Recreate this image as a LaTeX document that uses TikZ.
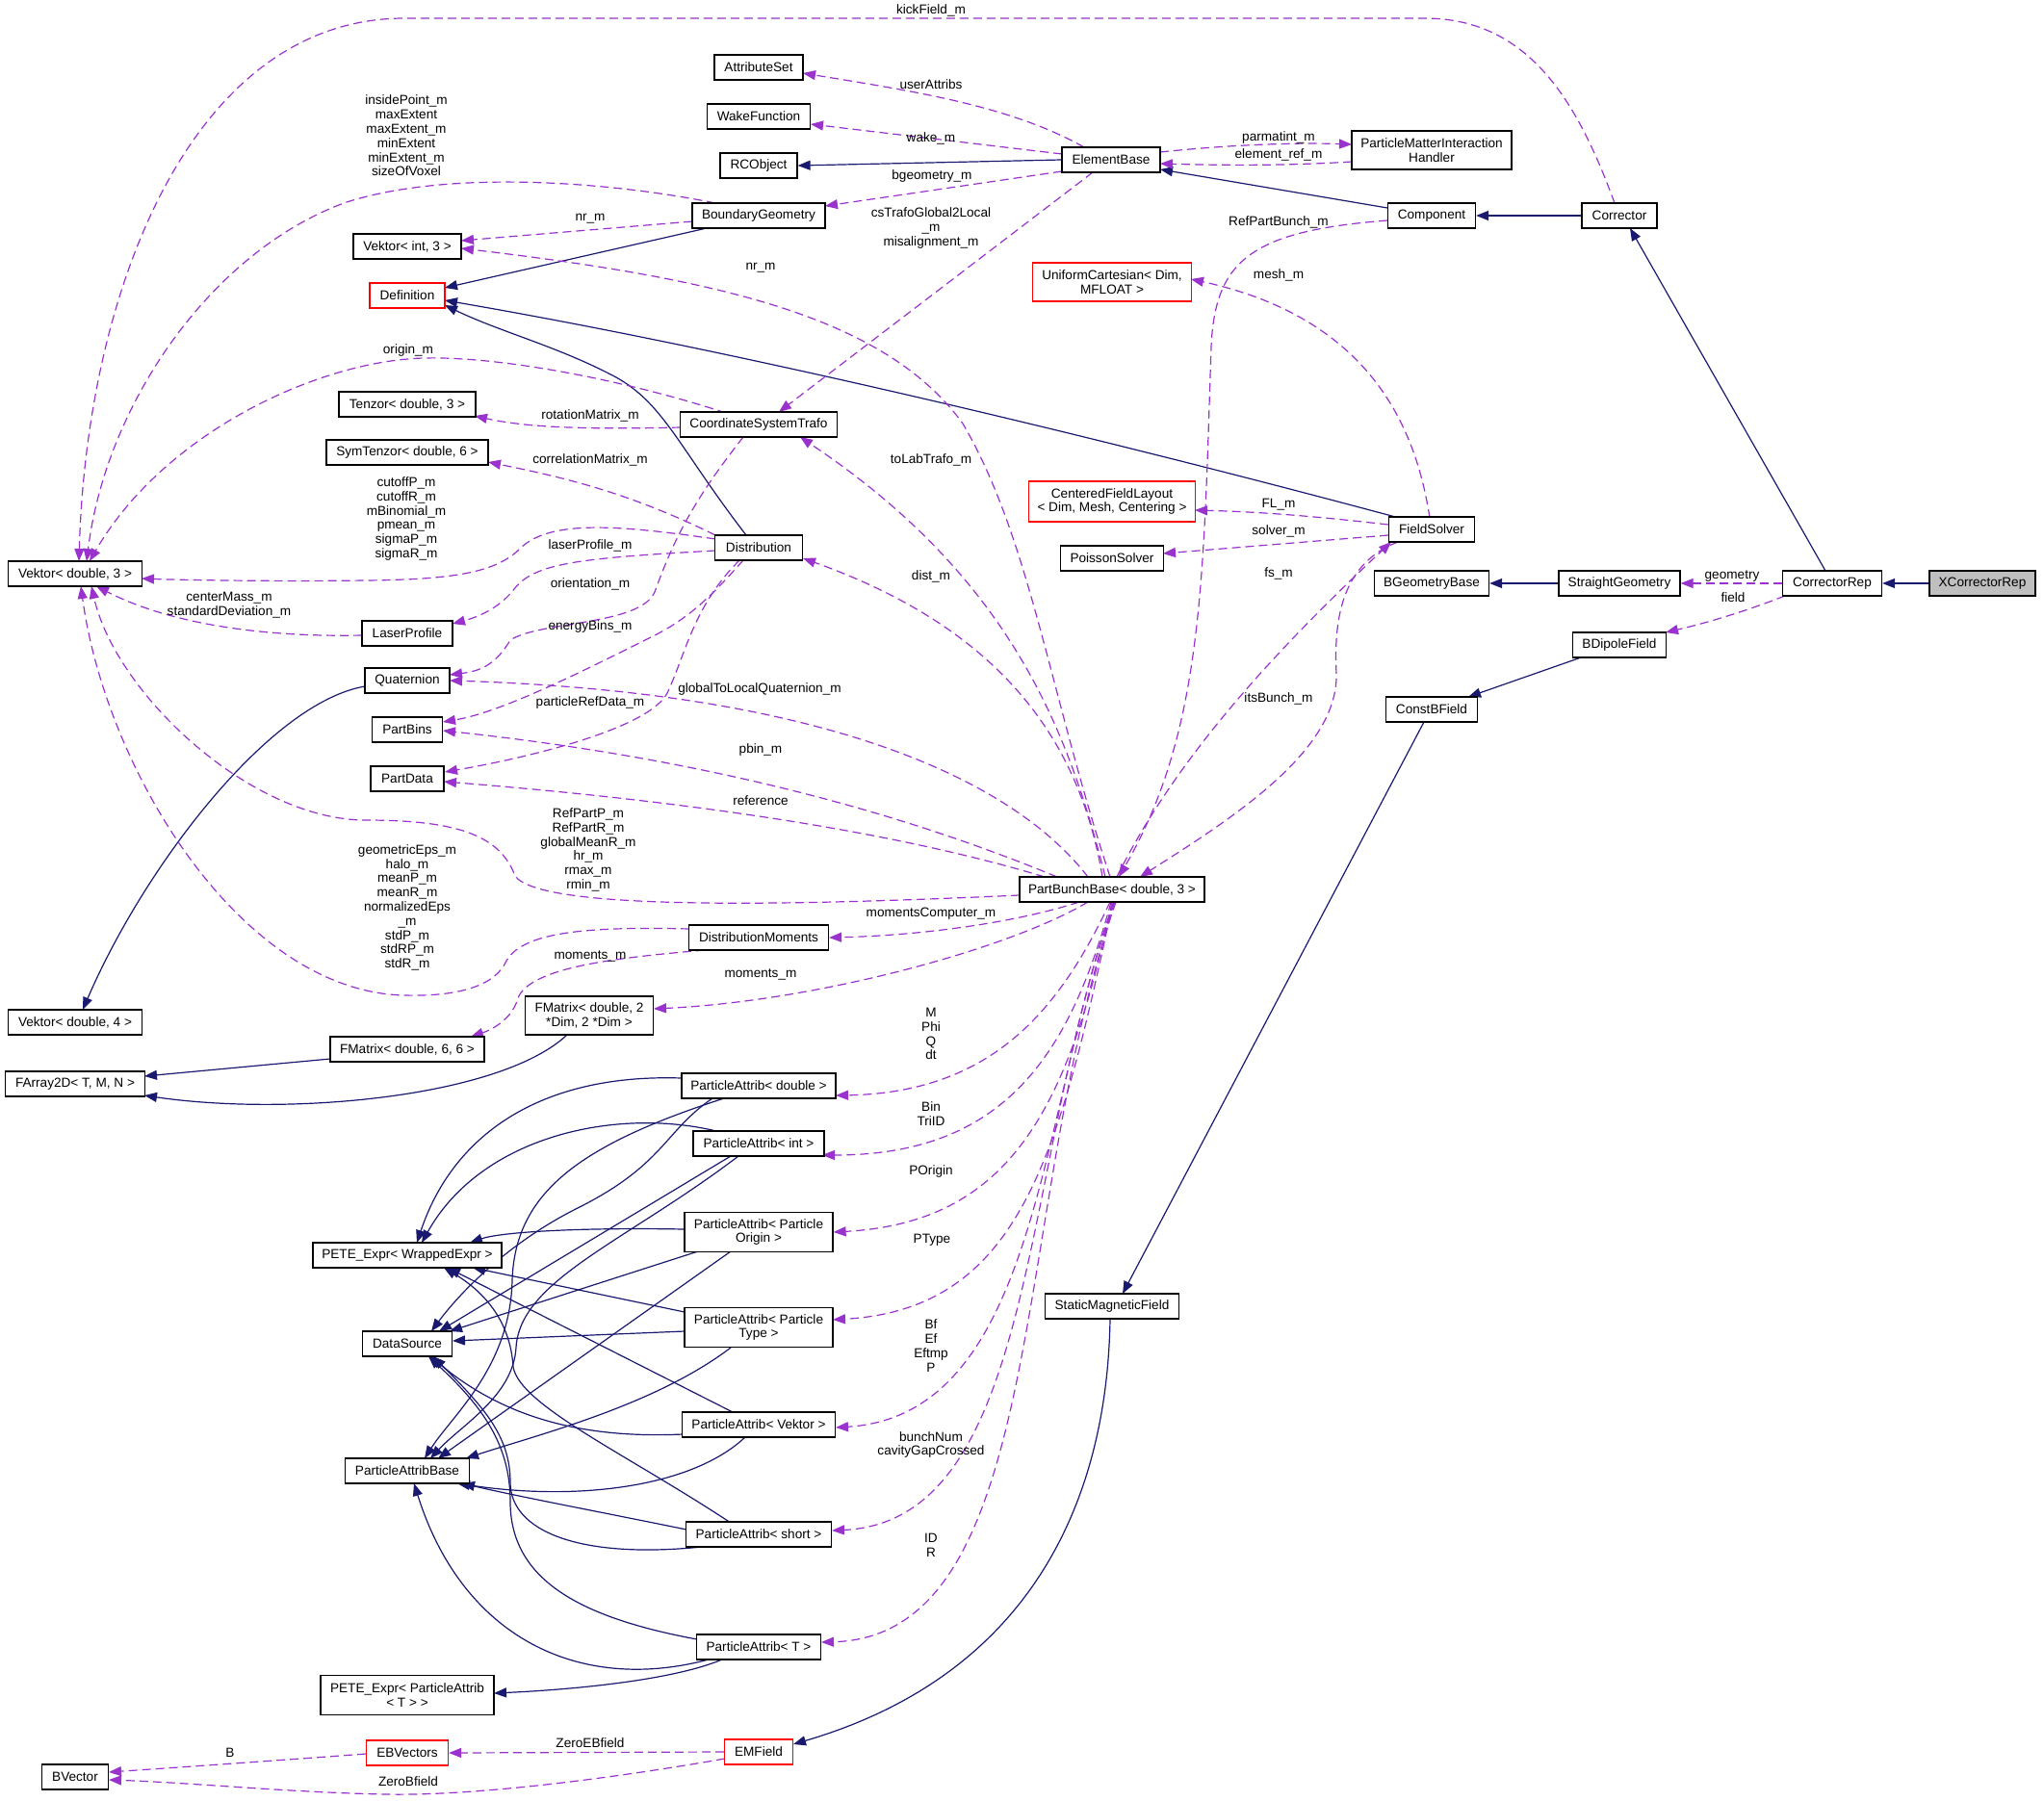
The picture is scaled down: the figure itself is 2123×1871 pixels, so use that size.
\documentclass[tikz,border=0pt]{standalone}
\usepackage{fontspec}
\setmainfont{Liberation Sans}
\usetikzlibrary{arrows.meta,calc,backgrounds}
\definecolor{navy}{HTML}{191970}
\definecolor{purp}{HTML}{9A32CD}
\definecolor{xgray}{HTML}{BFBFBF}
\newcommand\dxfont{\fontsize{13.6}{14.8}\selectfont}
\tikzset{
 cls/.style={draw=black, line width=1.2pt, fill=white, font=\dxfont, inner sep=0pt, align=center, minimum height=26pt},
 rcls/.style={cls, draw=red},
 inhedge/.style={draw=navy, line width=1.2pt, -{Triangle[length=13pt,width=10pt]}},
 usedge/.style={draw=purp, line width=1.2pt, dash pattern=on 9pt off 5pt, -{Triangle[length=13pt,width=10pt]}},
 lbl/.style={font=\dxfont, inner sep=0pt, align=center},
}
\begin{document}
\begin{tikzpicture}[x=1pt,y=-1pt]
\useasboundingbox (0,0) rectangle (2123,1871);
% ---- nodes
\node[cls,minimum width=139pt] (vd3) at (78,596) {Vektor< double, 3 >};
\node[cls,minimum width=112pt] (vi3) at (423,256) {Vektor< int, 3 >};
\node[rcls,minimum width=78pt] (defn) at (423,307) {Definition};
\node[cls,minimum width=142pt] (tenz) at (423,420) {Tenzor< double, 3 >};
\node[cls,minimum width=168pt] (symt) at (423,470) {SymTenzor< double, 6 >};
\node[cls,minimum width=94pt] (lasp) at (423,658) {LaserProfile};
\node[cls,minimum width=88pt] (quat) at (423,707) {Quaternion};
\node[cls,minimum width=73pt] (pbins) at (423,758) {PartBins};
\node[cls,minimum width=76pt] (pdata) at (423,809) {PartData};
\node[cls,minimum width=139pt] (vd4) at (78,1062) {Vektor< double, 4 >};
\node[cls,minimum width=160pt] (fm66) at (423,1090) {FMatrix< double, 6, 6 >};
\node[cls,minimum width=145pt] (fa2d) at (78,1126) {FArray2D< T, M, N >};
\node[cls,minimum width=133pt,minimum height=40pt] (fm2d) at (612,1055) {FMatrix< double, 2\\ *Dim, 2 *Dim >};
\node[cls,minimum width=196pt] (pete) at (423,1304) {PETE\_Expr< WrappedExpr >};
\node[cls,minimum width=93pt] (dsrc) at (423,1396) {DataSource};
\node[cls,minimum width=129pt] (pab) at (423,1528) {ParticleAttribBase};
\node[cls,minimum width=180pt,minimum height=41pt] (petet) at (423,1761) {PETE\_Expr< ParticleAttrib\\< T > >};
\node[rcls,minimum width=85pt] (ebv) at (423,1821) {EBVectors};
\node[cls,minimum width=69pt] (bvec) at (78,1846) {BVector};
\node[cls,minimum width=92pt] (attr) at (788,70) {AttributeSet};
\node[cls,minimum width=107pt] (wake) at (788,121) {WakeFunction};
\node[cls,minimum width=80pt] (rco) at (788,172) {RCObject};
\node[cls,minimum width=138pt] (bgeo) at (788,224) {BoundaryGeometry};
\node[cls,minimum width=163pt] (cst) at (788,441) {CoordinateSystemTrafo};
\node[cls,minimum width=91pt] (dist) at (788,569) {Distribution};
\node[cls,minimum width=145pt] (dmom) at (788,974) {DistributionMoments};
\node[cls,minimum width=160pt] (pad) at (788,1128) {ParticleAttrib< double >};
\node[cls,minimum width=136pt] (pai) at (788,1188) {ParticleAttrib< int >};
\node[cls,minimum width=154pt,minimum height=41pt] (pao) at (788,1280) {ParticleAttrib< Particle\\Origin >};
\node[cls,minimum width=154pt,minimum height=41pt] (pat) at (788,1379) {ParticleAttrib< Particle\\Type >};
\node[cls,minimum width=159pt] (pav) at (788,1480) {ParticleAttrib< Vektor >};
\node[cls,minimum width=151pt] (pas) at (788,1594) {ParticleAttrib< short >};
\node[cls,minimum width=129pt] (paT) at (788,1711) {ParticleAttrib< T >};
\node[rcls,minimum width=71pt] (emf) at (788,1820) {EMField};
\node[cls,minimum width=102pt] (elem) at (1154,166) {ElementBase};
\node[rcls,minimum width=165pt,minimum height=40pt] (unic) at (1155,293) {UniformCartesian< Dim,\\MFLOAT >};
\node[rcls,minimum width=173pt,minimum height=42pt] (cfl) at (1155,521) {CenteredFieldLayout\\< Dim, Mesh, Centering >};
\node[cls,minimum width=107pt] (poss) at (1155,580) {PoissonSolver};
\node[cls,minimum width=192pt] (pbb) at (1155,924) {PartBunchBase< double, 3 >};
\node[cls,minimum width=139pt] (smf) at (1155,1357) {StaticMagneticField};
\node[cls,minimum width=166pt,minimum height=40pt] (pmih) at (1487,156) {ParticleMatterInteraction\\Handler};
\node[cls,minimum width=91pt] (comp) at (1487,224) {Component};
\node[cls,minimum width=89pt] (fsol) at (1487,550) {FieldSolver};
\node[cls,minimum width=119pt] (bgb) at (1487,606) {BGeometryBase};
\node[cls,minimum width=95pt] (cbf) at (1487,737) {ConstBField};
\node[cls,minimum width=78pt] (corr) at (1682,224) {Corrector};
\node[cls,minimum width=126pt] (sgeo) at (1682,606) {StraightGeometry};
\node[cls,minimum width=97pt] (bdip) at (1682,670) {BDipoleField};
\node[cls,minimum width=103pt] (crep) at (1903,606) {CorrectorRep};
\node[cls,minimum width=110pt,fill=xgray] (xcrep) at (2059,606) {XCorrectorRep};
% ---- edges
\begin{scope}[on background layer]
% inheritance
\draw[inhedge] (xcrep.west) -- (crep.east);
\draw[inhedge] ($(crep)+(-7,-13)$) -- ($(corr)+(11,13)$);
\draw[inhedge] (corr.west) -- (comp.east);
\draw[inhedge] ($(comp)+(-46,-8)$) -- ($(elem)+(51,10)$);
\draw[inhedge] (elem.west) -- (rco.east);
\draw[inhedge] (sgeo.west) -- (bgb.east);
\draw[inhedge] ($(bdip)+(-37,12)$) -- ($(cbf)+(38,-13)$);
\draw[inhedge] ($(cbf)+(-8,13)$) -- ($(smf)+(11,-13)$);
\draw[inhedge] ($(smf)+(-2,13)$) .. controls (1150,1560) and (1070,1740) .. ($(emf)+(36,-8)$);
\draw[inhedge] ($(bgeo)+(-54,13)$) -- ($(defn)+(39,-8)$);
\draw[inhedge] ($(fsol)+(-34,-12)$) .. controls (1200,470) and (800,370) .. ($(defn)+(39,5)$);
\draw[inhedge] ($(dist)+(-13,-13)$) .. controls (705,465) and (690,420) .. (640,392) .. controls (580,360) and (520,345) .. ($(defn)+(39,10)$);
\draw[inhedge] ($(quat)+(-44,6)$) .. controls (280,730) and (150,900) .. ($(vd4)+(8,-13)$);
\draw[inhedge] ($(fm66)+(-80,10)$) -- ($(fa2d)+(72,-8)$);
\draw[inhedge] ($(fm2d)+(-23,20)$) .. controls (520,1140) and (300,1160) .. ($(fa2d)+(72,12)$);
\draw[inhedge] ($(paT)+(-38,13)$) .. controls (700,1745) and (600,1755) .. ($(petet)+(90,-2)$);
\draw[inhedge] ($(paT)+(-52,13)$) .. controls (600,1760) and (480,1700) .. ($(pab)+(7,13)$);
\draw[inhedge] ($(paT)+(-64,-8)$) .. controls (600,1680) and (530,1640) .. (530,1560) .. controls (530,1500) and (500,1460) .. ($(dsrc)+(22,13)$);
\draw[inhedge] ($(pas)+(-59,13)$) .. controls (600,1620) and (530,1590) .. (530,1540) .. controls (530,1490) and (500,1460) .. ($(dsrc)+(27,13)$);
\draw[inhedge] ($(pas)+(-75,-5)$) .. controls (620,1570) and (540,1555) .. ($(pab)+(57,13)$);
\draw[inhedge] ($(pas)+(-29,-12)$) .. controls (650,1510) and (540,1460) .. (533,1420) .. controls (530,1370) and (500,1340) .. ($(pete)+(38,13)$);
\draw[inhedge] ($(pav)+(-27,-13)$) -- ($(pete)+(42,13)$);
\draw[inhedge] ($(pav)+(-79,10)$) .. controls (600,1495) and (520,1470) .. ($(dsrc)+(24,13)$);
\draw[inhedge] ($(pav)+(-13,12)$) .. controls (720,1545) and (600,1560) .. ($(pab)+(52,13)$);
\draw[inhedge] ($(pat)+(-77,-16)$) -- ($(pete)+(68,13)$);
\draw[inhedge] ($(pat)+(-77,4)$) -- ($(dsrc)+(47,-3)$);
\draw[inhedge] ($(pat)+(-29,21)$) .. controls (680,1460) and (560,1490) .. ($(pab)+(61,-13)$);
\draw[inhedge] ($(pao)+(-77,-3)$) .. controls (600,1275) and (520,1280) .. ($(pete)+(65,-13)$);
\draw[inhedge] ($(pao)+(-63,20)$) -- ($(dsrc)+(44,-13)$);
\draw[inhedge] ($(pao)+(-29,20)$) -- ($(pab)+(32,-13)$);
\draw[inhedge] ($(pai)+(-44,-13)$) .. controls (640,1150) and (500,1180) .. ($(pete)+(15,-13)$);
\draw[inhedge] ($(pad)+(-80,-8)$) .. controls (560,1115) and (470,1180) .. ($(pete)+(10,-13)$);
\draw[inhedge] ($(pai)+(-29,13)$) -- ($(dsrc)+(33,-13)$);
\draw[inhedge] ($(pad)+(-48,13)$) .. controls (690,1175) and (690,1210) .. (600,1255) .. controls (530,1290) and (480,1340) .. ($(dsrc)+(25,-13)$);
\draw[inhedge] ($(pad)+(-36,13)$) .. controls (600,1190) and (535,1240) .. (532,1330) .. controls (530,1420) and (470,1470) .. ($(pab)+(18,-13)$);
\draw[inhedge] ($(pai)+(-21,13)$) .. controls (650,1290) and (540,1330) .. (536,1400) .. controls (533,1450) and (480,1480) .. ($(pab)+(24,-13)$);
% usage
\draw[usedge] ($(corr)+(-5,-13)$) .. controls (1640,110) and (1590,19) .. (1480,19) -- (420,19) .. controls (200,19) and (90,300) .. ($(vd3)+(4,-13)$);
\draw[usedge] ($(bgeo)+(-45,-13)$) .. controls (640,190) and (470,175) .. (360,210) .. controls (220,260) and (110,420) .. ($(vd3)+(12,-13)$);
\draw[usedge] ($(bgeo)+(-69,6)$) -- ($(vi3)+(56,-6)$);
\draw[usedge] ($(pbb)+(-2,-13)$) .. controls (1090,720) and (1070,560) .. (1000,440) .. controls (920,330) and (750,290) .. ($(vi3)+(56,2)$);
\draw[usedge] ($(elem)+(-28,-13)$) .. controls (1050,110) and (950,95) .. ($(attr)+(46,6)$);
\draw[usedge] ($(elem)+(-51,-6)$) -- ($(wake)+(54,8)$);
\draw[usedge] ($(elem)+(-51,12)$) -- ($(bgeo)+(69,-10)$);
\draw[usedge] ($(elem)+(-19,13)$) -- ($(cst)+(21,-13)$);
\draw[usedge] ($(elem)+(51,-8)$) .. controls (1280,150) and (1350,148) .. ($(pmih)+(-83,-6)$);
\draw[usedge] ($(pmih)+(-83,12)$) .. controls (1340,172) and (1280,172) .. ($(elem)+(51,4)$);
\draw[usedge] ($(comp)+(-46,5)$) .. controls (1300,240) and (1262,270) .. (1258,360) .. controls (1250,600) and (1250,760) .. ($(pbb)+(7,-13)$);
\draw[usedge] ($(fsol)+(-2,-12)$) .. controls (1470,440) and (1420,330) .. ($(unic)+(82,-3)$);
\draw[usedge] ($(fsol)+(-45,-5)$) .. controls (1380,538) and (1320,532) .. ($(cfl)+(86,9)$);
\draw[usedge] ($(fsol)+(-45,6)$) -- ($(poss)+(53,-5)$);
\draw[usedge] ($(pbb)+(5,-13)$) .. controls (1220,790) and (1320,680) .. ($(fsol)+(-42,13)$);
\draw[usedge] ($(fsol)+(-35,13)$) .. controls (1395,585) and (1385,640) .. (1388,700) .. controls (1390,780) and (1280,850) .. ($(pbb)+(29,-13)$);
\draw[usedge] ($(pbb)+(-7,-13)$) .. controls (1110,760) and (1050,600) .. ($(cst)+(43,13)$);
\draw[usedge] ($(pbb)+(-10,-13)$) .. controls (1120,760) and (1030,650) .. ($(dist)+(46,11)$);
\draw[usedge] ($(pbb)+(-25,-13)$) .. controls (1060,820) and (880,720) .. ($(quat)+(44,0)$);
\draw[usedge] ($(pbb)+(-57,-13)$) .. controls (950,850) and (750,790) .. ($(pbins)+(37,1)$);
\draw[usedge] ($(pbb)+(-70,-13)$) .. controls (950,870) and (750,835) .. ($(pdata)+(38,3)$);
\draw[usedge] ($(pbb)+(-96,6)$) .. controls (800,942) and (560,945) .. (535,910) .. controls (520,870) and (480,852) .. (380,852) .. controls (260,852) and (120,720) .. ($(vd3)+(17,13)$);
\draw[usedge] ($(dmom)+(-72,-9)$) .. controls (600,962) and (540,970) .. (525,1000) .. controls (510,1030) and (460,1035) .. (420,1034) .. controls (250,1030) and (110,800) .. ($(vd3)+(6,13)$);
\draw[usedge] ($(dist)+(-45,-9)$) .. controls (640,545) and (570,540) .. (540,570) .. controls (515,595) and (470,602) .. (380,603) .. controls (300,604) and (200,603) .. ($(vd3)+(69,5)$);
\draw[usedge] ($(cst)+(-34,-12)$) .. controls (650,395) and (520,370) .. (440,372) .. controls (330,375) and (170,450) .. ($(vd3)+(15,-13)$);
\draw[usedge] ($(cst)+(-81,3)$) .. controls (620,446) and (550,445) .. ($(tenz)+(70,12)$);
\draw[usedge] ($(dist)+(-45,-13)$) .. controls (650,510) and (580,495) .. ($(symt)+(84,10)$);
\draw[usedge] ($(dist)+(-45,3)$) .. controls (600,580) and (555,585) .. (534,612) .. controls (520,630) and (500,640) .. ($(lasp)+(47,-10)$);
\draw[usedge] ($(lasp)+(-47,2)$) .. controls (280,662) and (180,650) .. ($(vd3)+(22,13)$);
\draw[usedge] ($(cst)+(-16,13)$) .. controls (720,520) and (700,560) .. (680,615) .. controls (665,650) and (560,645) .. (530,665) .. controls (515,690) and (500,697) .. ($(quat)+(44,-6)$);
\draw[usedge] ($(dist)+(-16,13)$) .. controls (745,612) and (720,640) .. (680,660) .. controls (600,700) and (520,740) .. ($(pbins)+(37,-8)$);
\draw[usedge] ($(dist)+(-20,13)$) .. controls (720,630) and (712,680) .. (693,720) .. controls (675,755) and (560,785) .. ($(pdata)+(39,-7)$);
\draw[usedge] ($(pbb)+(-34,13)$) .. controls (1050,960) and (950,972) .. (dmom.east);
\draw[usedge] ($(pbb)+(-25,13)$) .. controls (1050,985) and (850,1040) .. ($(fm2d)+(67,-7)$);
\draw[usedge] ($(dmom)+(-56,13)$) .. controls (640,995) and (545,1005) .. (537,1040) .. controls (530,1060) and (510,1070) .. ($(fm66)+(66,-13)$);
\draw[usedge] ($(pbb)+(-2,13)$) .. controls (1100,1050) and (1030,1135) .. ($(pad)+(80,10)$);
\draw[usedge] ($(pbb)+(-1,13)$) .. controls (1110,1100) and (1040,1200) .. ($(pai)+(66,12)$);
\draw[usedge] ($(pbb)+(0,13)$) .. controls (1110,1150) and (1050,1270) .. (pao.east);
\draw[usedge] ($(pbb)+(1,13)$) .. controls (1100,1200) and (1060,1360) .. ($(pat)+(77,-8)$);
\draw[usedge] ($(pbb)+(2,13)$) .. controls (1080,1150) and (1080,1470) .. ($(pav)+(80,3)$);
\draw[usedge] ($(pbb)+(3,13)$) .. controls (1060,1200) and (1080,1580) .. ($(pas)+(76,-4)$);
\draw[usedge] ($(pbb)+(4,13)$) .. controls (1050,1250) and (1090,1700) .. ($(paT)+(65,-5)$);
\draw[usedge] ($(ebv)+(-43,1)$) .. controls (300,1828) and (200,1835) .. ($(bvec)+(35,-5)$);
\draw[usedge] ($(emf)+(-35,7)$) .. controls (650,1845) and (500,1866) .. (400,1864) .. controls (300,1862) and (200,1852) .. ($(bvec)+(35,3)$);
\draw[usedge] (emf.west) -- (ebv.east);
\draw[usedge] (crep.west) -- (sgeo.east);
\draw[usedge] ($(crep)+(-49,13)$) .. controls (1800,640) and (1760,650) .. ($(bdip)+(48,-13)$);
\end{scope}
% ---- labels
\node[lbl] (lkick) at (967,11) {kickField\_m};
\node[lbl] (luser) at (967,88) {userAttribs};
\node[lbl] (lwake) at (967,144) {wake\_m};
\node[lbl] (lbgeo) at (968,183) {bgeometry\_m};
\node[lbl] (lcst) at (967,237) {csTrafoGlobal2Local\\\_m\\misalignment\_m};
\node[lbl] (lparm) at (1328,143) {parmatint\_m};
\node[lbl] (leref) at (1328,161) {element\_ref\_m};
\node[lbl] (lrpb) at (1328,231) {RefPartBunch\_m};
\node[lbl] (lmesh) at (1328,286) {mesh\_m};
\node[lbl] (lfl) at (1328,524) {FL\_m};
\node[lbl] (lsolv) at (1328,552) {solver\_m};
\node[lbl] (lfs) at (1328,596) {fs\_m};
\node[lbl] (lits) at (1328,726) {itsBunch\_m};
\node[lbl] (linside) at (422,141) {insidePoint\_m\\maxExtent\\maxExtent\_m\\minExtent\\minExtent\_m\\sizeOfVoxel};
\node[lbl] (lnr1) at (613,227) {nr\_m};
\node[lbl] (lnr2) at (790,278) {nr\_m};
\node[lbl] (lorig) at (424,364) {origin\_m};
\node[lbl] (lrot) at (613,432) {rotationMatrix\_m};
\node[lbl] (lcorr) at (613,478) {correlationMatrix\_m};
\node[lbl] (lcut) at (422,539) {cutoffP\_m\\cutoffR\_m\\mBinomial\_m\\pmean\_m\\sigmaP\_m\\sigmaR\_m};
\node[lbl] (llas) at (613,567) {laserProfile\_m};
\node[lbl] (lori) at (613,607) {orientation\_m};
\node[lbl] (lcm) at (238,629) {centerMass\_m\\standardDeviation\_m};
\node[lbl] (leb) at (613,651) {energyBins\_m};
\node[lbl] (llab) at (967,478) {toLabTrafo\_m};
\node[lbl] (ldist) at (967,599) {dist\_m};
\node[lbl] (lprd) at (613,730) {particleRefData\_m};
\node[lbl] (lgtl) at (789,716) {globalToLocalQuaternion\_m};
\node[lbl] (lpbin) at (790,779) {pbin\_m};
\node[lbl] (lref) at (790,832) {reference};
\node[lbl] (lrpp) at (611,883) {RefPartP\_m\\RefPartR\_m\\globalMeanR\_m\\hr\_m\\rmax\_m\\rmin\_m};
\node[lbl] (lgeps) at (423,943) {geometricEps\_m\\halo\_m\\meanP\_m\\meanR\_m\\normalizedEps\\\_m\\stdP\_m\\stdRP\_m\\stdR\_m};
\node[lbl] (lmc) at (967,949) {momentsComputer\_m};
\node[lbl] (lmom1) at (613,993) {moments\_m};
\node[lbl] (lmom2) at (790,1012) {moments\_m};
\node[lbl] (lmphi) at (967,1074) {M\\Phi\\Q\\dt};
\node[lbl] (lbin) at (967,1157) {Bin\\TriID};
\node[lbl] (lpo) at (967,1217) {POrigin};
\node[lbl] (lpt) at (968,1288) {PType};
\node[lbl] (lbf) at (967,1398) {Bf\\Ef\\Eftmp\\P};
\node[lbl] (lbn) at (967,1501) {bunchNum\\cavityGapCrossed};
\node[lbl] (lid) at (967,1605) {ID\\R};
\node[lbl] (lb) at (239,1821) {B};
\node[lbl] (lzeb) at (613,1811) {ZeroEBfield};
\node[lbl] (lzb) at (424,1851) {ZeroBfield};
\node[lbl] (lgeom) at (1799,599) {geometry};
\node[lbl] (lfield) at (1800,621) {field};
\end{tikzpicture}
\end{document}
